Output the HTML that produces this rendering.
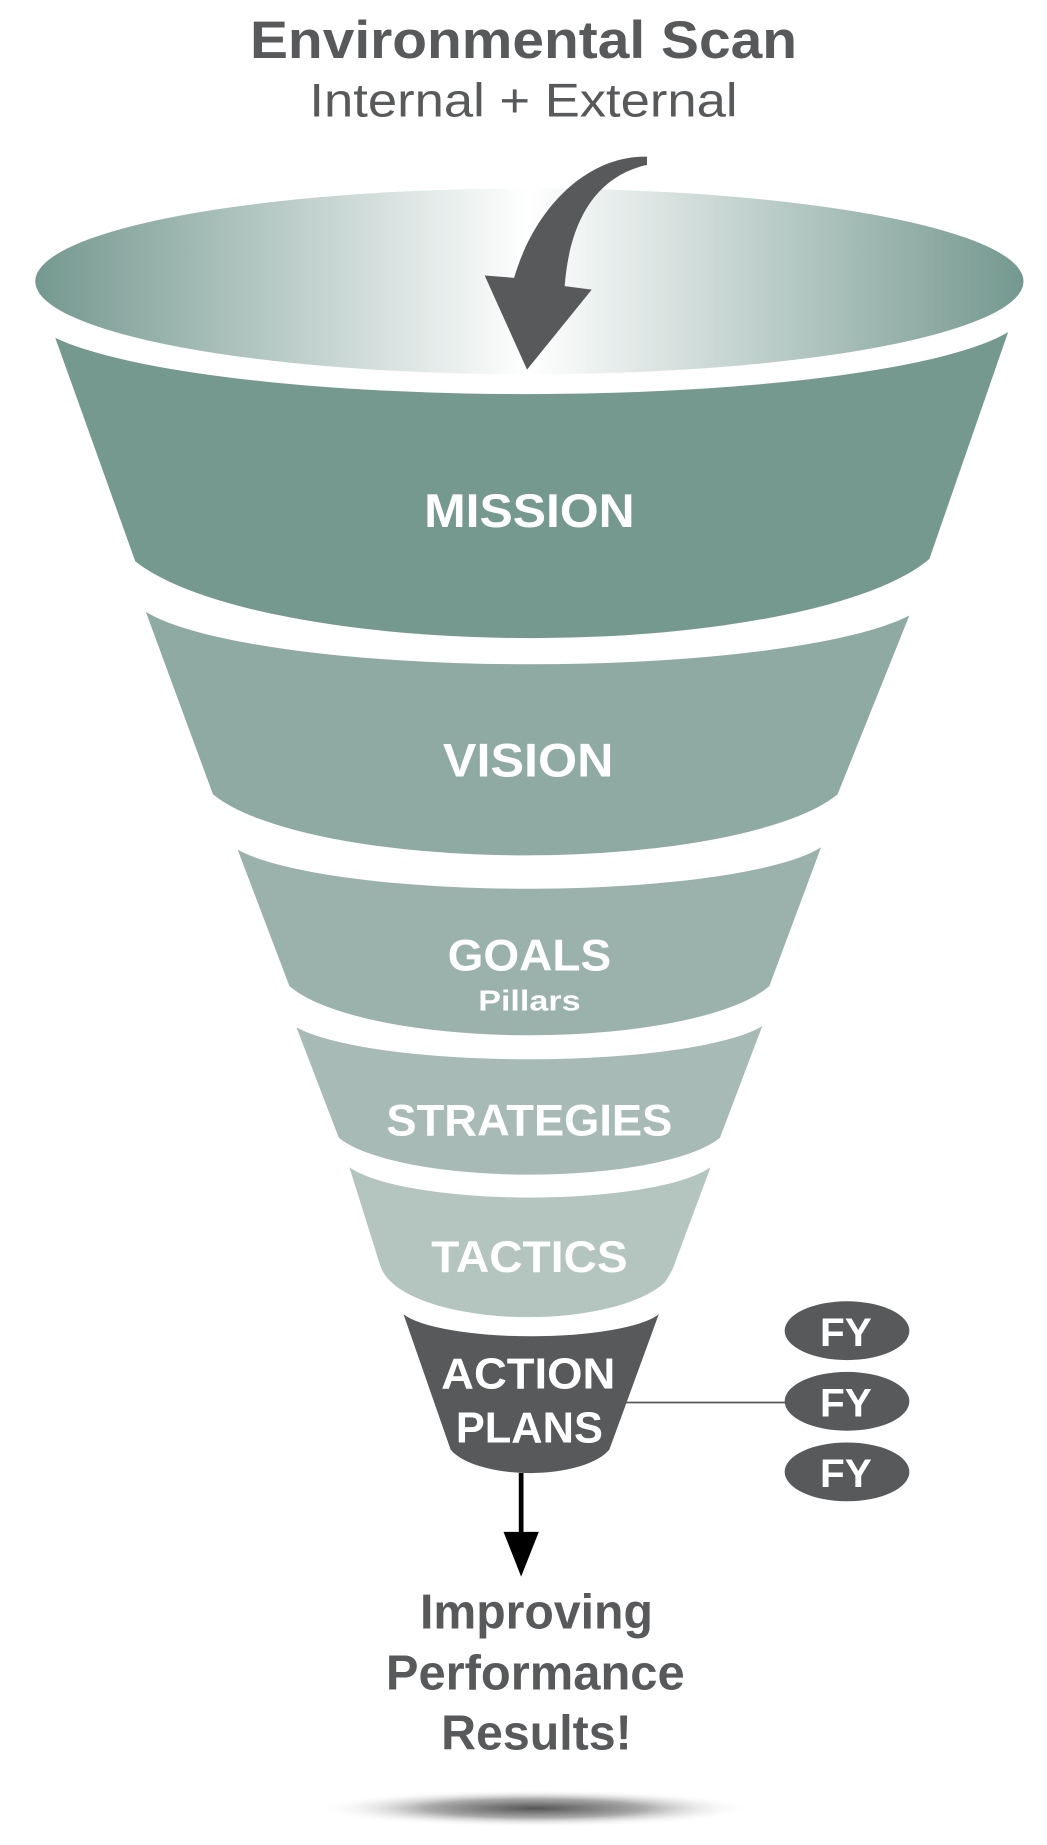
<!DOCTYPE html>
<html><head><meta charset="utf-8"><style>html,body{margin:0;padding:0;background:#fff}svg{display:block}</style></head>
<body>
<svg width="1047" height="1845" viewBox="0 0 890 1568" xmlns="http://www.w3.org/2000/svg" font-family="Liberation Sans, sans-serif">
<defs>
<linearGradient id="g" x1="30" y1="0" x2="870" y2="0" gradientUnits="userSpaceOnUse">
<stop offset="0" stop-color="#74988f"/><stop offset="0.5" stop-color="#ffffff"/><stop offset="1" stop-color="#74988f"/>
</linearGradient>
<radialGradient id="sh" cx="0.5" cy="0.5" r="0.5"><stop offset="0" stop-color="#555"/><stop offset="0.5" stop-color="#aaa"/><stop offset="1" stop-color="#fff" stop-opacity="0"/></radialGradient>
</defs>
<text x="445" y="49" text-anchor="middle" font-size="45" font-weight="bold" fill="#58595b" textLength="465" lengthAdjust="spacingAndGlyphs">Environmental Scan</text>
<text x="445" y="99" text-anchor="middle" font-size="40" fill="#58595b" textLength="364" lengthAdjust="spacingAndGlyphs">Internal + External</text>
<ellipse cx="450" cy="239" rx="420" ry="79" fill="url(#g)"/>
<path d="M550,133 C500,132 455,175 437,236 L412,234 L448,314 L503,246 L480,243 C484,190 505,150 550,140 Z" fill="#58595b"/>
<path d="M47,287 A425 72 0 0 0 857,282 L790,475 A355 96 0 0 1 115,477 Z" fill="#76998f"/>
<path d="M124,520 A341 62 0 0 0 773,523 L712,675 A279 75 0 0 1 181,675 Z" fill="#8fa9a3"/>
<path d="M202,722 A260 49 0 0 0 698,720 L654,838 A214 60 0 0 1 246,838 Z" fill="#9bb1ac"/>
<path d="M252,873 A208 40 0 0 0 648,872 L612,967 A170 45 0 0 1 288,967 Z" fill="#a7bab5"/>
<path d="M297,992 A161 37 0 0 0 604,992 L572,1078 Q568,1086 565,1090 A125 47 0 0 1 333,1090 Q326,1084 323,1075 Z" fill="#b4c4bf"/>
<path d="M343,1117 A113 26 0 0 0 560,1117 L518,1232 A71 29 0 0 1 383,1232 Z" fill="#58595b"/>
<g fill="#fff" font-weight="bold" text-anchor="middle">
<text x="450" y="448" font-size="40" textLength="179" lengthAdjust="spacingAndGlyphs">MISSION</text>
<text x="449" y="660" font-size="40" textLength="145" lengthAdjust="spacingAndGlyphs">VISION</text>
<text x="450" y="825" font-size="38" textLength="139" lengthAdjust="spacingAndGlyphs">GOALS</text>
<text x="450" y="859" font-size="24" textLength="87" lengthAdjust="spacingAndGlyphs">Pillars</text>
<text x="450" y="965" font-size="38" textLength="243" lengthAdjust="spacingAndGlyphs">STRATEGIES</text>
<text x="450" y="1081" font-size="38" textLength="167" lengthAdjust="spacingAndGlyphs">TACTICS</text>
<text x="449" y="1180" font-size="37" textLength="148" lengthAdjust="spacingAndGlyphs">ACTION</text>
<text x="450" y="1226" font-size="37" textLength="125" lengthAdjust="spacingAndGlyphs">PLANS</text>
</g>
<line x1="532" y1="1192" x2="668" y2="1192" stroke="#58595b" stroke-width="1.5"/>
<g fill="#58595b"><ellipse cx="720" cy="1131" rx="53" ry="25"/><ellipse cx="720" cy="1191" rx="53" ry="25"/><ellipse cx="720" cy="1251" rx="53" ry="25"/></g>
<g fill="#fff" font-weight="bold" font-size="34" text-anchor="middle">
<text x="719" y="1144" textLength="44" lengthAdjust="spacingAndGlyphs">FY</text>
<text x="719" y="1204" textLength="44" lengthAdjust="spacingAndGlyphs">FY</text>
<text x="719" y="1264" textLength="44" lengthAdjust="spacingAndGlyphs">FY</text>
</g>
<line x1="443" y1="1252" x2="443" y2="1308" stroke="#000" stroke-width="4"/>
<path d="M428,1302 L458,1302 L443,1340 Z" fill="#000"/>
<g fill="#58595b" font-weight="bold" font-size="42" text-anchor="middle">
<text x="456" y="1384" textLength="198" lengthAdjust="spacingAndGlyphs">Improving</text>
<text x="455" y="1436" textLength="254" lengthAdjust="spacingAndGlyphs">Performance</text>
<text x="456" y="1487" textLength="162" lengthAdjust="spacingAndGlyphs">Results!</text>
</g>
<ellipse cx="455" cy="1537" rx="185" ry="16" fill="url(#sh)"/>
</svg>
</body></html>
